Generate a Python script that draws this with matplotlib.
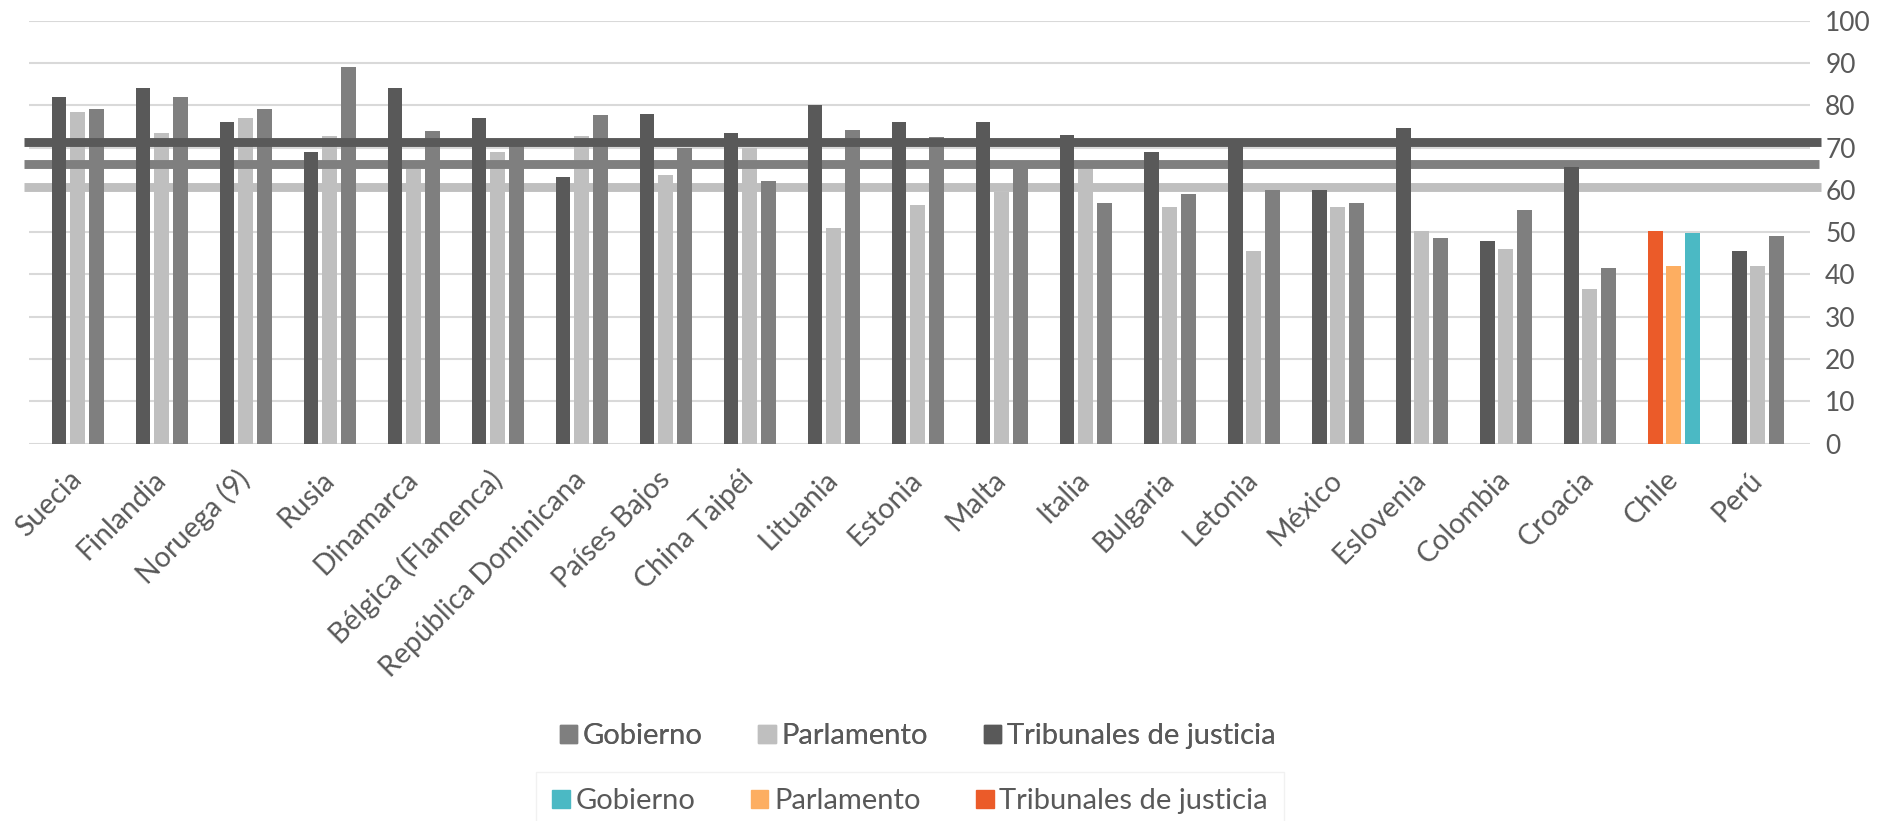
import numpy as np
import matplotlib
matplotlib.use("Agg")
import matplotlib.pyplot as plt
from matplotlib.patches import Patch

plt.rcParams['font.family'] = ['Lato', 'DejaVu Sans']

# Data
paises = ["Suecia", "Finlandia", "Noruega (9)", "Rusia", "Dinamarca", "Bélgica (Flamenca)",
          "República Dominicana", "Países Bajos", "China Taipéi", "Lituania", "Estonia",
          "Malta", "Italia", "Bulgaria", "Letonia", "México", "Eslovenia", "Colombia",
          "Croacia", "Chile", "Perú"]
tribunales = [82, 84, 76, 69, 84, 77, 63, 78, 73.5, 80, 76, 76, 73, 69, 72, 60, 74.5, 48, 65.5, 50.3, 45.5]
parlamento = [78.5, 73.5, 77, 72.7, 65, 69, 72.7, 63.5, 70, 51, 56.5, 59.5, 65, 56, 45.5, 56, 50.3, 46, 36.6, 42, 42]
gobierno = [79, 82, 79, 89, 74, 71, 77.7, 70, 62, 74.2, 72.6, 66, 57, 59, 60, 57, 48.7, 55.2, 41.6, 49.8, 49]
# promedios (lineas horizontales)
prom_tribunales = 71.4
prom_gobierno = 66.0
prom_parlamento = 60.7
destacado = "Chile"

# colores
c_trib, c_parl, c_gob = "#595959", "#bfbfbf", "#7f7f7f"
c_trib_cl, c_parl_cl, c_gob_cl = "#eb5b29", "#fdae61", "#4bb9c4"
txt = "#595959"

fig = plt.figure(figsize=(18.96, 8.21), dpi=100)
ax = fig.add_axes([0.0153, 0.4596, 0.9393, 0.5153])

x = np.arange(len(paises))
w = 0.175
off = 0.222
idx = paises.index(destacado)

def colores(base, especial):
    return [especial if i == idx else base for i in range(len(paises))]

ax.bar(x - off, tribunales, w, color=colores(c_trib, c_trib_cl), zorder=3.5)
ax.bar(x, parlamento, w, color=colores(c_parl, c_parl_cl), zorder=2)
ax.bar(x + off, gobierno, w, color=colores(c_gob, c_gob_cl), zorder=2.5)

# lineas de promedio, un poco mas anchas que el area del grafico
ax.axhline(prom_parlamento, xmin=-0.003, xmax=1.006, color=c_parl, lw=6.4, zorder=1.5, clip_on=False, solid_capstyle='butt')
ax.axhline(prom_gobierno, xmin=-0.003, xmax=1.005, color=c_gob, lw=6.4, zorder=3, clip_on=False, solid_capstyle='butt')
ax.axhline(prom_tribunales, xmin=-0.003, xmax=1.006, color=c_trib, lw=6.4, zorder=4, clip_on=False, solid_capstyle='butt')

ax.set_xlim(-0.58, len(paises) - 0.38)
ax.set_ylim(0, 100)
ax.set_yticks(range(0, 101, 10))
ax.yaxis.tick_right()
ax.grid(axis='y', color='#d9d9d9', lw=1.5, zorder=0)
ax.set_axisbelow(True)
for s in ax.spines.values():
    s.set_visible(False)
ax.tick_params(axis='y', length=0, pad=11, labelsize=19, labelcolor=txt)
ax.tick_params(axis='x', length=0, pad=23)
ax.set_xticks(x)
ax.set_xticklabels(paises, rotation=45, ha='right', va='center', rotation_mode='anchor',
                   fontsize=20.5, color=txt)

# leyendas en dos filas
h1 = [Patch(color=c_gob), Patch(color=c_parl), Patch(color=c_trib)]
h2 = [Patch(color=c_gob_cl), Patch(color=c_parl_cl), Patch(color=c_trib_cl)]
etiquetas = ["Gobierno", "Parlamento", "Tribunales de justicia"]
leg1 = fig.legend(h1, etiquetas, loc='center', bbox_to_anchor=(0.484, 0.103), ncol=3,
                  frameon=False, fontsize=21, handlelength=0.6, handleheight=0.6,
                  handletextpad=0.2, columnspacing=1.9, labelcolor=txt)
leg2 = fig.legend(h2, etiquetas, loc='upper center', bbox_to_anchor=(0.48, 0.077), ncol=3,
                  frameon=True, fancybox=False, edgecolor='#eeeeee', fontsize=21,
                  handlelength=0.6, handleheight=0.6, handletextpad=0.2,
                  columnspacing=1.9, labelcolor=txt, borderpad=0.55)
fig.add_artist(leg1)

fig.savefig("out.png", dpi=100, facecolor='white')
